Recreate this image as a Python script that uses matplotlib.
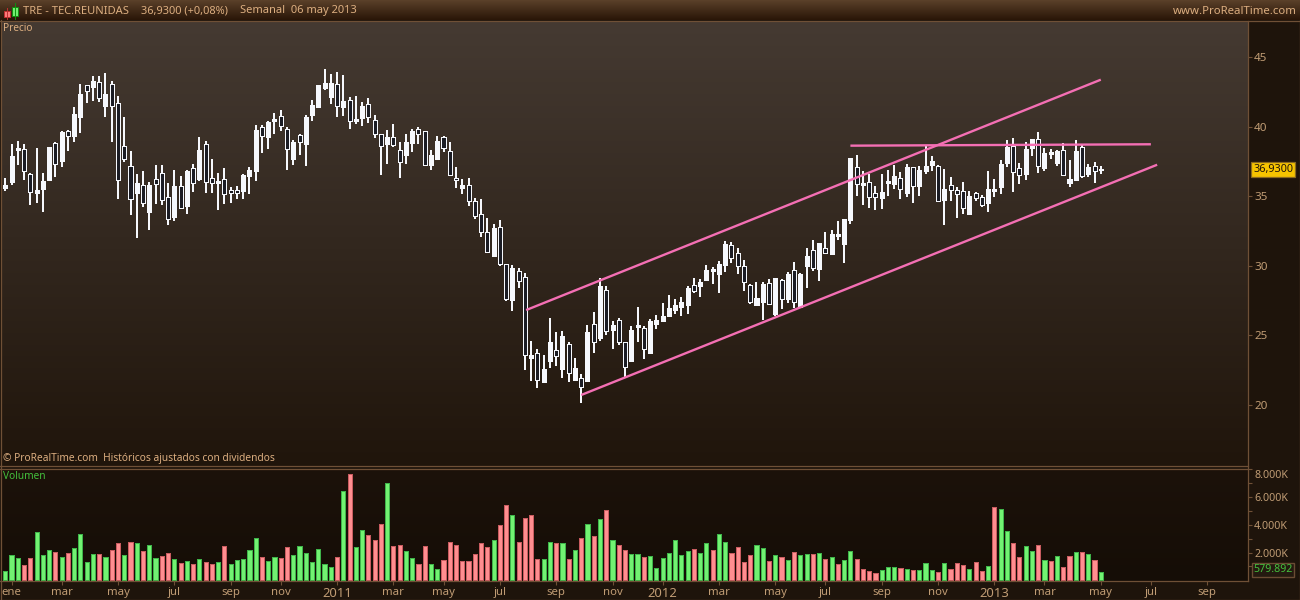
#!/usr/bin/env python
"""Weekly candlestick chart of TRE with volume panel, ProRealTime look."""

import numpy as np
import matplotlib
matplotlib.use("Agg")
import matplotlib.pyplot as plt
from matplotlib.patches import Rectangle

plt.rcParams["font.family"] = ["Noto Sans", "DejaVu Sans"]

# weekly prices
opens = [
    35.56, 36.01, 38.31, 38.38, 36.59, 35.22, 35.51, 36.16, 38.82, 37.52,
    39.68, 39.32, 40.68, 42.96, 42.84, 43.20, 41.47, 43.05, 41.69, 38.60,
    37.16, 35.22, 35.80, 33.86, 36.23, 36.66, 34.94, 33.50, 35.73, 34.29,
    37.02, 36.23, 38.74, 36.30, 35.94, 36.23, 35.44, 35.44, 35.37, 36.44,
    36.80, 39.97, 39.25, 40.40, 40.76, 39.82, 37.67, 39.39, 38.74, 40.83,
    41.40, 42.77, 42.12, 43.05, 41.40, 41.91, 40.40, 40.61, 41.62, 40.47,
    39.46, 38.74, 39.25, 38.31, 37.95, 38.82, 39.82, 39.68, 37.24, 37.67,
    39.27, 38.24, 36.30, 35.58, 35.80, 34.65, 33.71, 32.40, 30.70, 32.76,
    30.10, 27.53, 29.62, 29.19, 23.37, 23.73, 21.64, 23.15, 23.94, 22.58,
    24.37, 21.79, 21.91, 21.72, 25.81, 24.80, 28.25, 25.38, 26.10, 24.52,
    23.15, 25.60, 25.52, 23.73, 25.81, 26.03, 26.39, 26.82, 27.03, 27.18,
    28.61, 28.54, 28.97, 29.62, 29.40, 30.05, 31.49, 30.91, 29.98, 28.61,
    27.18, 27.39, 28.76, 26.53, 28.97, 27.61, 29.69, 27.03, 29.98, 31.13,
    29.76, 31.30, 30.84, 32.13, 31.56, 33.28, 37.09, 35.80, 36.01, 35.22,
    34.86, 35.94, 35.87, 36.30, 35.22, 37.09, 35.73, 36.80, 37.24, 37.16,
    34.72, 35.80, 35.44, 35.37, 33.71, 35.22, 34.94, 34.50, 35.37, 35.65,
    37.38, 38.60, 37.02, 36.59, 38.46, 39.10, 37.02, 38.02, 37.38, 38.31,
    35.94, 36.13, 38.53, 36.59, 37.16, 36.90,
]
closes = [
    35.80, 37.88, 38.46, 36.80, 35.29, 35.44, 36.09, 38.53, 37.31, 39.61,
    39.32, 40.90, 42.34, 42.58, 43.27, 42.05, 42.34, 41.47, 36.16, 37.67,
    34.79, 35.94, 34.50, 35.80, 35.87, 34.72, 33.36, 35.73, 34.15, 36.80,
    35.94, 38.31, 36.01, 35.94, 36.09, 35.15, 35.22, 35.22, 36.52, 36.88,
    39.75, 39.32, 40.32, 40.54, 40.04, 38.38, 38.89, 38.89, 40.68, 41.55,
    42.98, 43.13, 43.13, 41.47, 41.83, 40.40, 40.54, 41.47, 40.68, 39.46,
    38.60, 39.25, 38.67, 37.45, 38.89, 39.68, 39.46, 37.24, 37.95, 38.96,
    38.43, 36.52, 36.16, 35.80, 34.65, 33.57, 32.42, 30.96, 32.68, 30.12,
    27.61, 29.83, 28.92, 23.58, 23.58, 21.79, 22.58, 24.52, 23.54, 24.95,
    22.29, 22.65, 21.28, 25.24, 24.52, 28.54, 25.31, 25.74, 24.52, 22.72,
    25.38, 25.74, 24.02, 26.03, 26.10, 26.39, 26.96, 27.18, 27.39, 28.40,
    28.18, 28.83, 29.69, 29.76, 30.12, 31.56, 30.55, 29.98, 28.83, 27.39,
    27.68, 28.68, 27.25, 29.12, 27.58, 29.40, 27.39, 29.40, 30.70, 29.83,
    31.63, 30.94, 32.28, 32.28, 33.36, 37.74, 35.87, 35.94, 34.91, 34.91,
    35.29, 36.09, 36.44, 35.49, 37.09, 35.73, 36.88, 37.16, 37.52, 34.65,
    35.51, 35.44, 35.15, 34.15, 35.01, 34.86, 34.36, 35.51, 35.51, 37.31,
    38.53, 36.76, 36.52, 38.38, 39.10, 37.16, 38.10, 38.17, 38.24, 36.52,
    36.23, 38.24, 36.44, 37.09, 36.80, 36.93,
]
highs = [
    36.30, 38.74, 38.96, 38.74, 36.66, 38.46, 36.66, 38.55, 38.89, 39.68,
    39.75, 41.40, 43.05, 42.98, 43.63, 43.63, 43.85, 43.27, 42.19, 40.68,
    38.24, 36.59, 36.80, 36.04, 37.24, 37.24, 35.94, 36.88, 36.44, 36.88,
    37.31, 39.25, 38.96, 37.67, 36.66, 37.02, 35.65, 35.73, 36.59, 37.09,
    40.11, 40.11, 40.40, 40.97, 41.19, 39.97, 39.03, 39.46, 40.83, 41.91,
    42.98, 44.13, 43.77, 43.92, 43.70, 42.12, 42.19, 41.76, 42.05, 40.83,
    39.46, 39.75, 40.18, 38.89, 39.46, 39.82, 39.97, 39.68, 38.31, 39.32,
    39.32, 38.89, 37.09, 36.23, 36.30, 34.86, 34.79, 33.43, 33.00, 33.28,
    30.12, 30.05, 29.83, 29.48, 24.59, 24.02, 23.58, 26.24, 25.24, 25.31,
    24.52, 23.37, 22.22, 25.74, 26.67, 29.12, 28.54, 26.03, 26.24, 24.52,
    25.67, 27.03, 25.67, 26.17, 26.46, 27.32, 27.89, 27.61, 27.75, 28.54,
    29.12, 29.04, 30.05, 29.91, 30.34, 31.77, 31.70, 31.27, 30.41, 28.68,
    28.83, 28.83, 29.04, 29.12, 29.04, 29.55, 30.27, 29.48, 31.27, 31.85,
    31.63, 32.42, 32.56, 33.21, 33.36, 37.74, 37.95, 36.80, 36.59, 35.73,
    36.59, 36.88, 37.24, 36.73, 37.31, 37.09, 37.16, 38.60, 37.88, 37.24,
    36.95, 36.37, 35.65, 36.01, 35.37, 35.29, 35.08, 36.80, 36.23, 37.59,
    39.03, 39.17, 37.38, 38.89, 39.10, 39.61, 38.46, 38.38, 38.31, 38.82,
    37.59, 39.03, 38.67, 37.31, 37.45, 37.16,
]
lows = [
    35.39, 35.80, 37.24, 36.16, 34.36, 34.50, 33.86, 36.16, 36.37, 37.09,
    38.24, 38.89, 39.53, 41.69, 41.83, 41.76, 40.68, 38.89, 34.79, 37.45,
    33.64, 31.99, 34.22, 32.56, 34.43, 34.36, 32.92, 33.21, 34.07, 33.71,
    35.29, 36.09, 35.22, 35.22, 34.00, 34.43, 34.50, 34.79, 34.79, 35.15,
    36.09, 38.10, 38.38, 39.46, 39.68, 36.88, 37.24, 37.95, 37.16, 40.40,
    41.40, 42.62, 41.62, 40.68, 40.76, 39.82, 40.18, 40.04, 40.25, 39.17,
    36.52, 37.31, 38.53, 36.30, 37.31, 38.17, 38.74, 37.16, 36.88, 37.59,
    38.19, 36.52, 35.58, 35.15, 34.29, 33.36, 32.06, 30.89, 30.63, 29.98,
    27.46, 26.75, 28.40, 22.51, 21.72, 21.21, 21.64, 22.65, 22.79, 21.93,
    21.64, 21.72, 20.13, 21.64, 23.73, 24.59, 25.02, 24.02, 24.30, 22.00,
    23.15, 24.52, 23.30, 23.73, 25.45, 25.95, 26.31, 26.53, 26.39, 26.53,
    28.04, 27.75, 28.90, 28.68, 28.04, 29.55, 30.19, 29.40, 28.18, 27.25,
    27.18, 26.10, 27.18, 26.39, 26.89, 27.32, 26.96, 26.96, 28.40, 29.62,
    28.90, 30.91, 30.84, 31.85, 30.19, 33.00, 35.01, 34.36, 34.15, 34.00,
    34.07, 35.01, 35.51, 34.79, 34.94, 34.50, 35.01, 36.59, 36.80, 34.58,
    32.92, 34.65, 33.43, 33.71, 33.71, 34.65, 34.22, 33.86, 34.94, 35.15,
    37.09, 35.29, 35.87, 36.16, 37.88, 36.66, 36.80, 37.67, 37.16, 36.44,
    35.65, 36.09, 36.30, 36.37, 35.94, 36.59,
]

# volume in thousands of shares, g = up week, r = down week
volumes = [
    650, 1800, 1590, 1085, 1590, 3470, 1800, 2170, 2025, 1660,
    1950, 2310, 3325, 1300, 1880, 1880, 1660, 2170, 2675, 1800,
    2750, 2675, 2100, 2530, 1590, 1735, 1950, 1520, 1230, 1375,
    1155, 1520, 1300, 1155, 1300, 2460, 1155, 1445, 1520, 2170,
    3035, 1660, 1375, 1660, 1590, 2385, 1800, 2460, 1950, 1300,
    2240, 1155, 940, 1660, 6435, 7660, 2385, 3615, 3250, 2890,
    4050, 7015, 2460, 2530, 2100, 1590, 1155, 2460, 1155, 795,
    1445, 2750, 2530, 1375, 1375, 1880, 2675, 2385, 2890, 3975,
    5420, 4700, 2750, 4480, 4700, 1520, 1520, 2750, 2675, 2675,
    1520, 2170, 3035, 4050, 3180, 4410, 5060, 2890, 2530, 2170,
    1880, 1880, 1660, 1735, 870, 1590, 1950, 2890, 1800, 2100,
    2240, 1950, 2675, 2170, 3325, 2750, 1950, 2385, 1300, 1800,
    2530, 2310, 1375, 1800, 1660, 1445, 2025, 1800, 1880, 1880,
    1950, 1520, 1660, 1155, 1445, 2100, 1520, 795, 650, 505,
    725, 940, 940, 870, 795, 725, 725, 1230, 725, 580,
    1230, 795, 1230, 1085, 795, 1300, 650, 1010, 5280, 5130,
    3540, 2675, 1660, 2460, 2100, 2530, 1445, 1375, 1735, 940,
    1735, 2025, 2025, 1880, 1445, 580,
]
volume_dirs = (
    "gggrrgggrg" "rggggrgrrg" "rgrggrrgrg" "rgrrgrgggg" "grggrrgggg"
    "gggrgrggrr" "rgrrggrrgg" "rrrrrrrrgr" "rgrrrrggrg" "rgrgrgrgrr"
    "ggrggggggg" "rggrggrrrr" "ggrgrgrggr" "grgrggrrrr" "gggrgrgggr"
    "grrrgrrgrg" "grrggrgrgr" "rgrgrg"
)

# week index of each month tick on the time axis
tick_weeks = [1, 9, 18, 27, 36, 44, 53, 62, 70, 79, 88, 97, 105, 114, 123, 131,
              140, 149, 158, 166, 175, 183, 192]
tick_labels = ["ene", "mar", "may", "jul", "sep", "nov", "2011", "mar", "may",
               "jul", "sep", "nov", "2012", "mar", "may", "jul", "sep", "nov",
               "2013", "mar", "may", "jul", "sep"]
price_ticks = [20, 25, 30, 35, 40, 45]
volume_ticks = [2000, 4000, 6000, 8000]
volume_minor = [1000, 3000, 5000, 7000]

# hand drawn trend lines (week, price)
channel_top_x, channel_top_y = [83.2, 175], [26.82, 43.37]
channel_low_x, channel_low_y = [92, 184], [20.72, 37.26]
resistance_x, resistance_y = [135, 183], [38.63, 38.73]

last_price = 36.93
last_volume = 579.892

W, H = 1300, 600
X0, PITCH = 5.3, 6.26   # pixel of week 0, pixels per week
PRICE_Y20, PX_PER_EUR = 405.0, 13.92
VOL_BASE, PX_PER_KVOL = 580.3, 27.7 / 2000

TEXT = "#dcae80"
AXIS_TEXT = "#c09c74"
LINE = "#6f5036"
PINK = "#f46fb4"


def px_axes(fig, left, top, right, bottom, **kw):
    return fig.add_axes([left / W, 1 - bottom / H, (right - left) / W, (bottom - top) / H], **kw)


def gradient(ax, top, bottom):
    c0 = np.array(matplotlib.colors.to_rgb(top))
    c1 = np.array(matplotlib.colors.to_rgb(bottom))
    t = np.linspace(0, 1, 256)[:, None, None]
    ax.imshow(c0 + (c1 - c0) * t, extent=(0, 1, 0, 1), transform=ax.transAxes,
              aspect="auto", zorder=0)


def style_panel(ax, left, right):
    ax.set_xlim((left - X0) / PITCH, (right - X0) / PITCH)
    for side in ax.spines:
        ax.spines[side].set_visible(False)
    ax.yaxis.tick_right()
    ax.tick_params(axis="y", which="both", length=3.2, width=0.8, color=LINE,
                   labelcolor=AXIS_TEXT, labelsize=8.4, pad=1.5)


fig = plt.figure(figsize=(W / 100, H / 100), dpi=100, facecolor="#1e140b")
weeks = np.arange(len(closes))
opens_a, closes_a = np.array(opens), np.array(closes)

# page background: header band and right hand scale
page = px_axes(fig, 0, 0, W, H, zorder=0)
page.axis("off")
header = np.linspace(0, 1, 20)[:, None, None]
c_top = np.array(matplotlib.colors.to_rgb("#5a4029"))
c_bot = np.array(matplotlib.colors.to_rgb("#2a1608"))
page.imshow(c_top + (c_bot - c_top) * header, extent=(0, W, 20, 0), aspect="auto")
page.set_xlim(0, W)
page.set_ylim(H, 0)

# price panel
left, right = 1, 1247.5
ax = px_axes(fig, left, 21, right, 465, zorder=2)
gradient(ax, "#453a32", "#20150b")
style_panel(ax, left, right)
ax.set_ylim(20 + (PRICE_Y20 - 465) / PX_PER_EUR, 20 + (PRICE_Y20 - 21) / PX_PER_EUR)
ax.set_yticks(price_ticks)
ax.set_xticks([])

ax.vlines(weeks, lows, highs, color="#f6f8fd", linewidth=1.44, zorder=3, capstyle="butt",
          antialiased=False)
up = closes_a >= opens_a
ax.bar(weeks[up], (closes_a - opens_a)[up], bottom=opens_a[up], width=0.64,
       facecolor="#f6f8fd", edgecolor="#f6f8fd", linewidth=0.72, zorder=4, antialiased=False)
ax.bar(weeks[~up], (opens_a - closes_a)[~up], bottom=closes_a[~up], width=0.64,
       facecolor="#1b1c24", edgecolor="#f6f8fd", linewidth=0.72, zorder=4, antialiased=False)

for xs, ys in [(channel_top_x, channel_top_y), (channel_low_x, channel_low_y),
               (resistance_x, resistance_y)]:
    ax.plot(xs, ys, color=PINK, linewidth=1.7, zorder=5, solid_capstyle="butt")

ax.text(2 / (right - left), 1 - 7.5 / 444, "Precio", transform=ax.transAxes, color=TEXT,
        fontsize=7.3, va="center", ha="left")
ax.text(2 / (right - left), 6 / 444, "© ProRealTime.com  Históricos ajustados con dividendos",
        transform=ax.transAxes, color=TEXT, fontsize=7.35, va="center", ha="left")
ax.annotate(f"{last_price:.4f}".replace(".", ","), xy=(1.0, last_price),
            xycoords=ax.get_yaxis_transform(), xytext=(1273 - right, 0),
            textcoords="offset pixels", ha="center", va="center", color="#20140a", fontsize=7.8,
            annotation_clip=False,
            bbox=dict(boxstyle="square,pad=0.16", facecolor="#f6c400", edgecolor="#8a6a20", linewidth=0.9))

# volume panel
vol = px_axes(fig, left, 469, right, 580.5, zorder=2)
gradient(vol, "#1c120a", "#150d06")
style_panel(vol, left, right)
vol.set_ylim((VOL_BASE - 580.5) / PX_PER_KVOL, (VOL_BASE - 469) / PX_PER_KVOL)
is_up = np.array([d == "g" for d in volume_dirs])
vol_a = np.array(volumes)
vol.bar(weeks[is_up], vol_a[is_up], width=0.66, facecolor="#72f272", edgecolor="#3fb44a",
        linewidth=0.72, zorder=3, antialiased=False)
vol.bar(weeks[~is_up], vol_a[~is_up], width=0.66, facecolor="#ff8e90", edgecolor="#c95c60",
        linewidth=0.72, zorder=3, antialiased=False)
vol.set_yticks(volume_ticks)
vol.set_yticklabels([f"{v // 1000}.000K" for v in volume_ticks])
vol.set_yticks(volume_minor, minor=True)
vol.tick_params(axis="y", labelsize=7.7)
vol.yaxis.get_majorticklabels()[-1].set_va("top")
vol.set_xticks(tick_weeks)
vol.set_xticklabels(tick_labels)
vol.tick_params(axis="x", length=3.2, width=0.8, color=LINE, labelcolor=AXIS_TEXT,
                labelsize=8.2, pad=1.5)
for lab in vol.get_xticklabels():
    if lab.get_text().isdigit():
        lab.set_fontsize(9.4)
        lab.set_fontweight("bold")
vol.text(2 / (right - left), 1 - 7.5 / 111.5, "Volumen", transform=vol.transAxes,
         color="#44c03c", fontsize=7.3, va="center", ha="left")
vol.annotate(f"{last_volume:.3f}", xy=(1.0, last_volume),
             xycoords=vol.get_yaxis_transform(), xytext=(1273 - right, 2.5),
             textcoords="offset pixels", ha="center", va="center", color="#44c03c", fontsize=7.7,
             annotation_clip=False,
             bbox=dict(boxstyle="square,pad=0.16", facecolor="#241a10", edgecolor="#6a4c33", linewidth=1))

# frame lines and header text on top of everything
over = px_axes(fig, 0, 0, W, H, zorder=3)
over.set_xlim(0, W)
over.set_ylim(H, 0)
over.axis("off")
over.patch.set_alpha(0)
for y in [20.5, 465.5, 468.5, 580.5]:
    over.plot([0, right if y > 21 else W], [y, y], color=LINE, linewidth=0.9)
over.plot([0, W], [599.5, 599.5], color=LINE, linewidth=0.9)
over.plot([right, right], [20.5, 580.5], color=LINE, linewidth=0.9)
over.plot([0.5, 0.5], [20, 600], color=LINE, linewidth=0.9)
over.plot([1299.5, 1299.5], [20, 600], color=LINE, linewidth=0.9)
over.add_patch(Rectangle((3.5, 10.5), 6, 6, facecolor="#ff7a7a", edgecolor="#c03030", linewidth=0.7))
over.add_patch(Rectangle((11.5, 6.5), 6, 9, facecolor="#70f070", edgecolor="#109010", linewidth=0.7))
over.plot([6.5, 6.5], [8, 19], color="#c03030", linewidth=0.7, zorder=1)
over.plot([14.5, 14.5], [3, 19], color="#109010", linewidth=0.7, zorder=1)
over.text(23, 11, "TRE - TEC.REUNIDAS", color=TEXT, fontsize=8.0, va="center", ha="left")
over.text(141, 11, "36,9300 (+0,08%)", color=TEXT, fontsize=7.9, va="center", ha="left")
over.text(240, 11, "Semanal  06 may 2013", color=TEXT, fontsize=8.0, va="center", ha="left")
over.text(1297, 11, "www.ProRealTime.com", color=TEXT, fontsize=8.2, va="center", ha="right",
          fontweight="bold")

fig.savefig("out.png", dpi=100, facecolor=fig.get_facecolor())
